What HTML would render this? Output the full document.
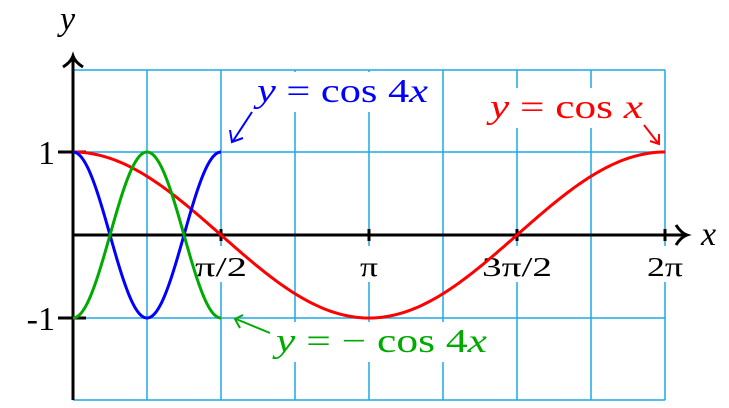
<!DOCTYPE html>
<html><head><meta charset="utf-8"><style>
html,body{margin:0;padding:0;background:#fff;}
svg{display:block;}
text{font-family:"Liberation Serif","DejaVu Serif",serif;}
</style></head><body>
<svg id="chart" width="729" height="408" viewBox="0 0 729 408" xmlns="http://www.w3.org/2000/svg">
<g id="grid"></g>
<g id="labels"></g>
<g id="axes"></g>
<g id="curves"></g>
<g id="ann"></g>
</svg>
<script>
const xTickValues = [Math.PI/2, Math.PI, 3*Math.PI/2, 2*Math.PI];
const xTickLabels = ["π/2", "π", "3π/2", "2π"];
const yTickValues = [1, -1];
const yTickLabels = ["1", "-1"];
const gridXValues = [0,1,2,3,4,5,6,7,8].map(k=>k*Math.PI/4);
const seriesNames = ["cos x", "cos 4x", "-cos 4x"];
const seriesDomains = [[0, 2*Math.PI],[0, Math.PI/2],[0, Math.PI/2]];
const seriesColors = ["#ff0000","#0000ff","#00aa00"];
const seriesFns = [x=>Math.cos(x), x=>Math.cos(4*x), x=>-Math.cos(4*x)];

const X0=73, X1=665, Y0=235, YU=83;
const sx = v => X0 + v/(2*Math.PI)*(X1-X0);
const sy = v => Y0 - v*YU;
const NS="http://www.w3.org/2000/svg";
function mk(tag, attrs, parent){const e=document.createElementNS(NS,tag);for(const k in attrs)e.setAttribute(k,attrs[k]);parent.appendChild(e);return e;}
const grid=document.getElementById('grid'), labels=document.getElementById('labels'), axes=document.getElementById('axes'), curves=document.getElementById('curves'), ann=document.getElementById('ann');

const gTop=70, gBot=400;
gridXValues.forEach(v=>{const l=mk('line',{x1:sx(v),x2:sx(v),y1:gTop,y2:gBot,stroke:'#1fa9e6','stroke-width':1.5},grid);

});
[gTop,sy(1),sy(0),sy(-1),gBot].forEach(y=>{const l=mk('line',{x1:X0,x2:X1,y1:y,y2:y,stroke:'#1fa9e6','stroke-width':1.5},grid);

});

const tickW={"π/2":52,"π":18,"3π/2":70,"2π":36};
xTickValues.forEach((v,i)=>{
  const x=sx(v);
  const w=tickW[xTickLabels[i]]||40;
  const r=mk('rect',{x:x-w/2-3,y:246,width:w+6,height:36,fill:'#fff'},labels);
  
  
  const t=mk('text',{x:x-w/2,y:276,'font-size':27,fill:'#000',textLength:w,lengthAdjust:'spacingAndGlyphs'},labels);
  t.textContent=xTickLabels[i];
  
  
});
yTickValues.forEach((v,i)=>{
  const t=mk('text',{x:55,y:sy(v)+12,'font-size':34,'text-anchor':'end',fill:'#000'},labels);
  t.textContent=yTickLabels[i];
  
  
  const tk=mk('line',{x1:58,x2:86,y1:sy(v),y2:sy(v),stroke:'#000','stroke-width':3},axes);
  
  
});
xTickValues.forEach(v=>{const tk=mk('line',{x1:sx(v),x2:sx(v),y1:Y0-6,y2:Y0+6,stroke:'#000','stroke-width':3},axes);

});

let a=mk('line',{x1:X0,x2:686,y1:Y0,y2:Y0,stroke:'#000','stroke-width':3},axes);


a=mk('path',{d:'M676,225 Q681,233 687,235 Q681,237 676,245',fill:'none',stroke:'#000','stroke-width':3},axes);


a=mk('line',{x1:X0,x2:X0,y1:57,y2:400,stroke:'#000','stroke-width':3},axes);


a=mk('path',{d:'M63,67 Q71,62 73,56 Q75,62 83,67',fill:'none',stroke:'#000','stroke-width':3},axes);


let t=mk('text',{x:701,y:245,'font-size':34,'font-style':'italic'},axes);t.textContent='x';


t=mk('text',{x:60,y:30,'font-size':34,'font-style':'italic'},axes);t.textContent='y';



seriesFns.forEach((f,i)=>{
  const [a0,a1]=seriesDomains[i];let d='';const N=200;
  for(let k=0;k<=N;k++){const x=a0+(a1-a0)*k/N;d+=(k?'L':'M')+sx(x).toFixed(2)+','+sy(f(x)).toFixed(2);}
  const p=mk('path',{d:d,fill:'none',stroke:seriesColors[i],'stroke-width':3},curves);
  
  
});

function label(x,y,parts,color,name,tw){
  const r=mk('rect',{x:x-4,y:y-30,width:tw+8,height:40,fill:'#fff'},ann);
  
  
  const tx=mk('text',{x:x,y:y,'font-size':34,fill:color,textLength:tw,lengthAdjust:'spacingAndGlyphs'},ann);
  
  
  tx.innerHTML=parts;
}
label(257,102,'<tspan font-style="italic">y</tspan> = cos 4<tspan font-style="italic">x</tspan>','#0000ff','label-cos-4x',171);
label(490,118,'<tspan font-style="italic">y</tspan> = cos <tspan font-style="italic">x</tspan>','#ff0000','label-cos-x',153);
label(276,352,'<tspan font-style="italic">y</tspan> = − cos 4<tspan font-style="italic">x</tspan>','#00aa00','label-neg-cos-4x',211);
function arrow(d,head,color,name){
  const g=mk('g',{stroke:color,'stroke-width':2,fill:'none'},ann);
  
  
  mk('path',{d:d},g);mk('path',{d:head},g);
}
arrow('M252,112 L233,141','M230,130 L232,142 L243,138','#0000ff','arrow-cos-4x');
arrow('M644,125 L658,143','M650,141 L659,144 L659,134','#ff0000','arrow-cos-x');
arrow('M270,333 L236,319','M243,315 L235,319 L240,328','#00aa00','arrow-neg-cos-4x');
</script>
</body></html>
